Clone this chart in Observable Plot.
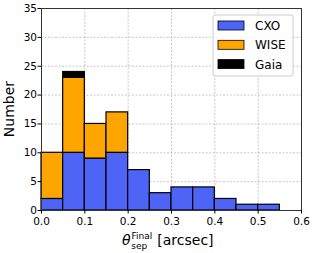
<!DOCTYPE html>
<html><head><meta charset="utf-8">
<script src="https://cdn.jsdelivr.net/npm/d3@7"></script>
<script src="https://cdn.jsdelivr.net/npm/@observablehq/plot@0.6"></script>
<style>body{margin:0;background:#fff}svg{font-family:"DejaVu Sans",sans-serif}</style>
</head><body><div id="chart"></div>
<script>
const binStarts = [0.0,0.05,0.1,0.15,0.2,0.25,0.3,0.35,0.4,0.45,0.5];
const binWidth = 0.05;
const cxo  = [2,10,9,10,7,3,4,4,2,1,1];
const wise = [8,13,6,7,0,0,0,0,0,0,0];
const gaia = [0,1,0,0,0,0,0,0,0,0,0];
const seriesNames = ["CXO","WISE","Gaia"];
const colors = ["#4e64f7","#ffa500","#000000"];
const xTicks = [0,0.1,0.2,0.3,0.4,0.5,0.6];
const yTicks = [0,5,10,15,20,25,30,35];

const rows = [];
binStarts.forEach((b,i)=>{
  let base = 0;
  [cxo,wise,gaia].forEach((arr,k)=>{
    const v = arr[i];
    if (v>0) rows.push({x1:b,x2:b+binWidth,y1:base,y2:base+v,series:seriesNames[k]});
    base += v;
  });
});

const W=316,H=253,ml=41,mr=15,mt=8,mb=43;
const plot = Plot.plot({
  width:W,height:H,marginLeft:ml,marginRight:mr,marginTop:mt,marginBottom:mb,
  style:{fontFamily:"DejaVu Sans, sans-serif",fontSize:"10.5px",color:"#000",background:"#fff"},
  x:{domain:[0,0.6],ticks:xTicks,tickFormat:d3.format(".1f"),label:null},
  y:{domain:[0,35],ticks:yTicks,label:null},
  color:{domain:seriesNames,range:colors},
  marks:[
    Plot.gridX(xTicks,{stroke:"#b0b0b0",strokeOpacity:1,strokeDasharray:"2,1.5",strokeWidth:0.7}),
    Plot.gridY(yTicks,{stroke:"#b0b0b0",strokeOpacity:1,strokeDasharray:"2,1.5",strokeWidth:0.7}),
    Plot.rect(rows,{x1:"x1",x2:"x2",y1:"y1",y2:"y2",fill:"series",stroke:"#000",strokeWidth:1.2}),
    Plot.frame({stroke:"#333",strokeWidth:1}),
    Plot.axisX(xTicks,{tickSize:3.5,tickPadding:3.5,fontSize:10.5,tickFormat:d3.format(".1f"),label:null}),
    Plot.axisY(yTicks,{tickSize:3.5,tickPadding:1,fontSize:10.5,label:null})
  ]
});
document.getElementById("chart").appendChild(plot);
const svg = d3.select(plot);
// y label
svg.append("text").attr("transform",`translate(13.5,${mt+(H-mt-mb)/2}) rotate(-90)`)
  .attr("text-anchor","middle").attr("font-size","14px").attr("fill","#000").text("Number");
// x label
const xl = svg.append("text").attr("x",122).attr("y",245)
  .attr("text-anchor","start").attr("font-size","14px").attr("fill","#000");
xl.append("tspan").attr("font-style","italic").text("θ");
xl.append("tspan").attr("font-size","9px").attr("dx","1").attr("dy","-6").text("Final");
xl.append("tspan").attr("font-size","9px").attr("dx","-21").attr("dy","10").text("sep");
xl.append("tspan").attr("dx","10").attr("dy","-4").text("[arcsec]");
// legend
const lg = svg.append("g").attr("text-anchor","start");
lg.append("rect").attr("x",213).attr("y",15).attr("width",80).attr("height",61).attr("rx",2)
  .attr("fill","#fff").attr("fill-opacity",0.85).attr("stroke","#ccc");
seriesNames.forEach((s,i)=>{
  const y=21+i*19.3;
  lg.append("rect").attr("x",218).attr("y",y).attr("width",26).attr("height",9)
    .attr("fill",colors[i]).attr("stroke","#000").attr("stroke-width",0.8);
  lg.append("text").attr("x",255).attr("y",y+9).attr("font-size","12px").attr("fill","#000").text(s);
});
</script></body></html>
